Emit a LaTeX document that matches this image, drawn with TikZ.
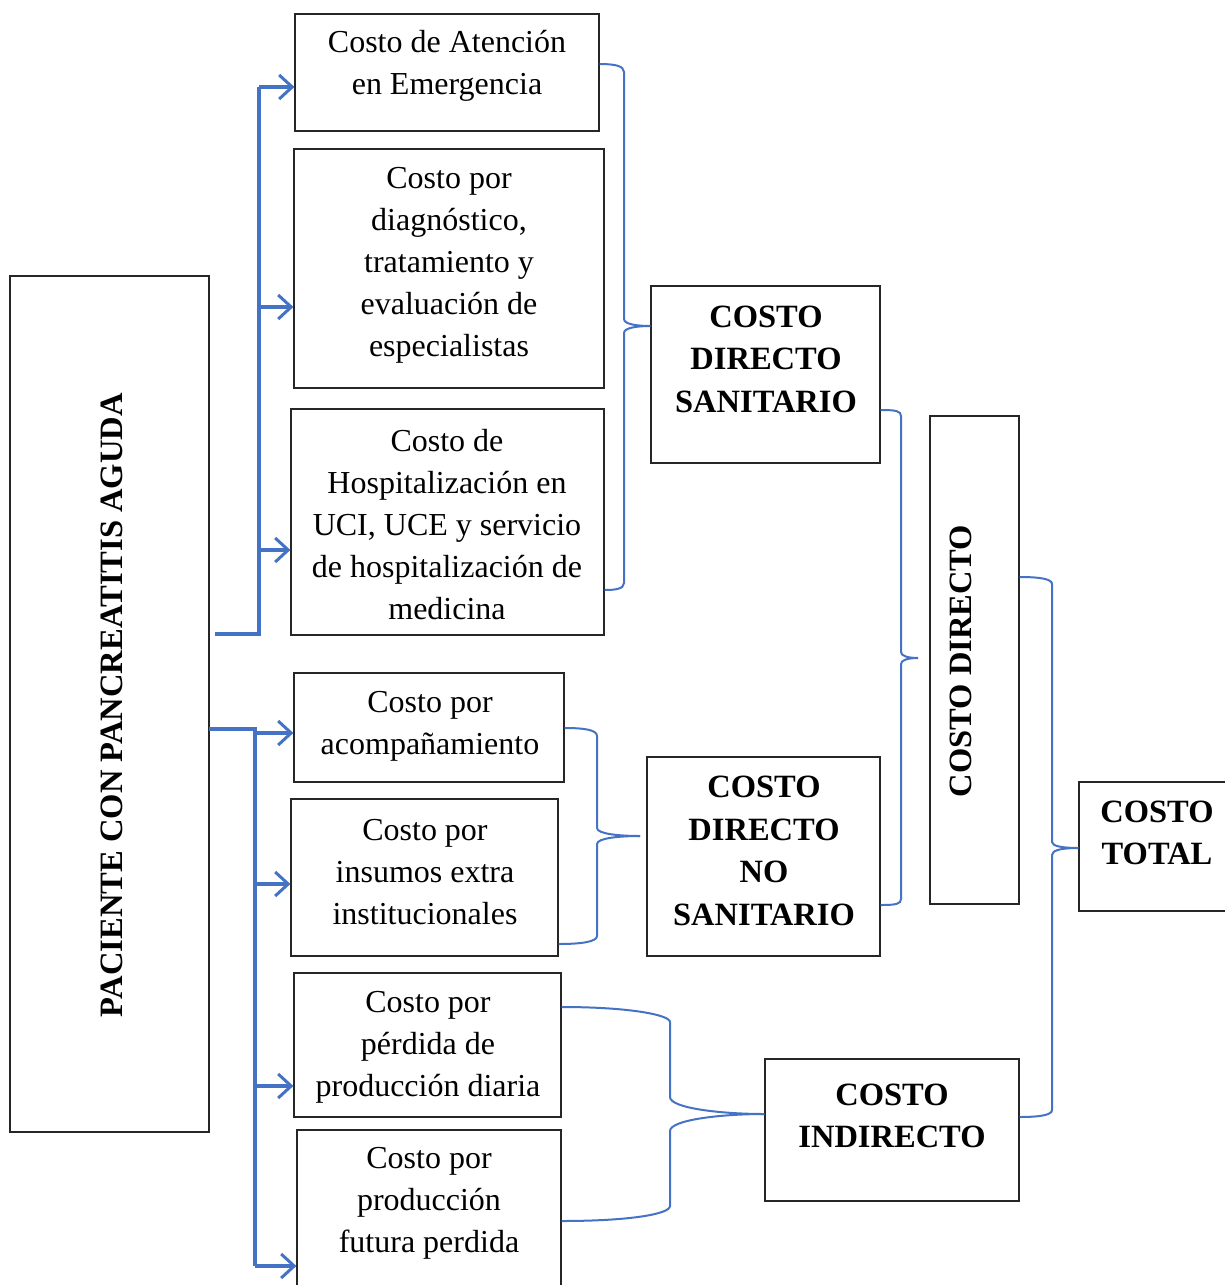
\documentclass[tikz,border=0pt]{standalone}
\usepackage{fontspec}
\setmainfont{Liberation Serif}
\usetikzlibrary{arrows.meta}
\definecolor{lineblue}{RGB}{68,114,196}
\begin{document}
\begin{tikzpicture}[x=1pt,y=-1pt,
  box/.style={draw=black!85, line width=1.2pt, inner sep=0pt},
  txt/.style={align=center, inner sep=0pt, font=\fontsize{32}{42}\selectfont},
  btxt/.style={align=center, inner sep=0pt, font=\fontsize{32.5}{42.5}\selectfont\bfseries},
  conn/.style={draw=lineblue, line width=3.1pt},
  arr/.style={conn, -{Straight Barb[length=13pt,width=24pt,line width=3pt]}},
  brace/.style={draw=lineblue, line width=2pt}
]
\useasboundingbox (0,0) rectangle (1225,1285);

% boxes
\node[box, minimum width=199, minimum height=856] (pac) at (109.5,704) {};
\node[box, minimum width=304, minimum height=117] (a1) at (447,72.5) {};
\node[box, minimum width=310, minimum height=239] (a2) at (449,268.5) {};
\node[box, minimum width=313, minimum height=226] (a3) at (447.5,522) {};
\node[box, minimum width=270, minimum height=109] (b1) at (429,727.5) {};
\node[box, minimum width=267, minimum height=157] (b2) at (424.5,877.5) {};
\node[box, minimum width=267, minimum height=144] (c1) at (427.5,1045) {};
\node[box, minimum width=264, minimum height=170] (c2) at (429,1215) {};
\node[box, minimum width=229, minimum height=177] (cds) at (765.5,374.5) {};
\node[box, minimum width=233, minimum height=199] (cdns) at (763.5,856.5) {};
\node[box, minimum width=254, minimum height=142] (ci) at (892,1130) {};
\node[box, minimum width=89, minimum height=488] (cd) at (974.5,660) {};
\node[box, minimum width=150, minimum height=129] (ct) at (1154,846.5) {};

% texts
\node[btxt, rotate=90, font=\fontsize{32.6}{40}\selectfont\bfseries] (pact) at (112,705) {PACIENTE CON PANCREATITIS AGUDA};
\node[txt] (a1t) at (447,66) {Costo de Atención\\en Emergencia};
\node[txt] (a2t) at (449,265) {Costo por\\diagnóstico,\\tratamiento y\\evaluación de\\especialistas};
\node[txt] (a3t) at (447,525) {Costo de\\Hospitalización en\\UCI, UCE y servicio\\de hospitalización de\\medicina};
\node[txt] (b1t) at (430,726) {Costo por\\acompañamiento};
\node[txt] (b2t) at (425,872) {Costo por\\insumos extra\\institucionales};
\node[txt] (c1t) at (428,1047) {Costo por\\pérdida de\\producción diaria};
\node[txt] (c2t) at (429,1203) {Costo por\\producción\\futura perdida};
\node[btxt] (cdst) at (766,359) {COSTO\\DIRECTO\\SANITARIO};
\node[btxt] (cdnst) at (764,851) {COSTO\\DIRECTO\\NO\\SANITARIO};
\node[btxt] (cit) at (892,1116) {COSTO\\INDIRECTO};
\node[btxt] (ctt) at (1157,833) {COSTO\\TOTAL};
\node[btxt, rotate=90] (cdt) at (961,661) {COSTO DIRECTO};

% arrows group 1
\coordinate (g1s) at (215,634);
\coordinate (g1c) at (259,634);
\coordinate (g1t) at (259,87);
\draw[conn] (g1s) -- (g1c) -- (g1t);
\draw[arr] (g1t) -- (a1.west |- g1t);
\draw[arr] (259,307) -- (a2.west |- 0,307);
\draw[arr] (259,550) -- (a3.west |- 0,550);

% arrows group 2
\coordinate (g2s) at (209,729);
\coordinate (g2c) at (255,729);
\draw[conn] (g2s) -- (g2c) -- (255,1266);
\draw[arr] (255,733) -- (b1.west |- 0,733);
\draw[arr] (255,884) -- (b2.west |- 0,884);
\draw[arr] (255,1086) -- (c1.west |- 0,1086);
\draw[arr] (255,1266) -- (c2.west |- 0,1266);

% brace 1: a1, a3 -> cds
\draw[brace] (a1.east |- 0,64) .. controls (615,64) and (624,66) .. (624,72)
  -- (624,319) .. controls (624,324) and (636,326) .. (cds.west |- 0,326);
\draw[brace] (cds.west |- 0,326) .. controls (636,326) and (624,328) .. (624,333)
  -- (624,583) .. controls (624,589) and (615,590) .. (a3.east |- 0,590);

% brace 2: b1, b2 -> cdns
\draw[brace] (b1.east |- 0,728) .. controls (585,728) and (597,730) .. (597,736)
  -- (597,828) .. controls (597,834) and (620,836) .. (640,836);
\draw[brace] (640,836) .. controls (620,836) and (597,838) .. (597,844)
  -- (597,936) .. controls (597,942) and (580,944) .. (b2.east |- 0,944);

% brace 3: c1, c2 -> ci
\draw[brace] (c1.east |- 0,1007) .. controls (630,1007) and (670,1015) .. (670,1022)
  -- (670,1097) .. controls (670,1108) and (720,1114) .. (ci.west |- 0,1114);
\draw[brace] (ci.west |- 0,1114) .. controls (720,1114) and (670,1120) .. (670,1131)
  -- (670,1206) .. controls (670,1214) and (630,1221) .. (c2.east |- 0,1221);

% brace 4: cds, cdns -> cd
\draw[brace] (cds.east |- 0,410) .. controls (896,410) and (901,411) .. (901,416)
  -- (901,652) .. controls (901,656) and (908,658) .. (918,658);
\draw[brace] (918,658) .. controls (908,658) and (901,660) .. (901,664)
  -- (901,899) .. controls (901,904) and (896,905) .. (cdns.east |- 0,905);

% brace 5: cd, ci -> ct
\draw[brace] (cd.east |- 0,577) .. controls (1040,577) and (1052,579) .. (1052,584)
  -- (1052,842) .. controls (1052,846) and (1062,848) .. (ct.west |- 0,848);
\draw[brace] (ct.west |- 0,848) .. controls (1062,848) and (1052,850) .. (1052,855)
  -- (1052,1110) .. controls (1052,1115) and (1040,1117) .. (ci.east |- 0,1117);
\end{tikzpicture}
\end{document}
